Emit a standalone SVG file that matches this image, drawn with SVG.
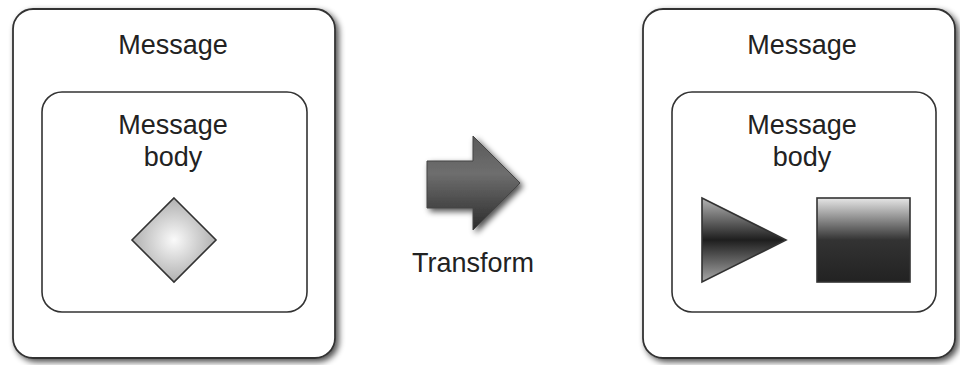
<svg xmlns="http://www.w3.org/2000/svg" width="960" height="365" viewBox="0 0 960 365">
<style>
.outer{fill:#fff;stroke:#333;stroke-width:1.8}
.inner{fill:#fff;stroke:#333;stroke-width:1.6}
.lbl{font-family:"Liberation Sans",Arial,sans-serif;font-size:27px;fill:#222;text-anchor:middle}
.shape{stroke:#333;stroke-width:1.6}
</style>
<defs>
<filter id="shadow" x="-10%" y="-10%" width="125%" height="125%">
<feGaussianBlur in="SourceAlpha" stdDeviation="3"/>
<feOffset dx="3" dy="3" result="b"/>
<feComponentTransfer><feFuncA type="linear" slope="0.7"/></feComponentTransfer>
<feMerge><feMergeNode/><feMergeNode in="SourceGraphic"/></feMerge>
</filter>
<radialGradient id="gDiamond" cx="0.5" cy="0.5" r="0.5">
<stop offset="0" stop-color="#fafafa"/>
<stop offset="1" stop-color="#b0b0b0"/>
</radialGradient>
<linearGradient id="gArrow" x1="0" y1="0" x2="0" y2="1">
<stop offset="0" stop-color="#5a5a5a"/>
<stop offset="0.4" stop-color="#6e6e6e"/>
<stop offset="1" stop-color="#2a2a2a"/>
</linearGradient>
<linearGradient id="gTri" x1="0" y1="0" x2="0" y2="1">
<stop offset="0" stop-color="#b5b5b5"/>
<stop offset="0.5" stop-color="#1e1e1e"/>
<stop offset="1" stop-color="#a8a8a8"/>
</linearGradient>
<linearGradient id="gSq" x1="0" y1="0" x2="0" y2="1">
<stop offset="0" stop-color="#e6e6e6"/>
<stop offset="0.5" stop-color="#333"/>
<stop offset="1" stop-color="#222"/>
</linearGradient>
</defs>

<g id="msg-before">
<rect class="outer" x="13" y="9" width="322" height="349" rx="20" filter="url(#shadow)"/>
<text class="lbl" x="173" y="54">Message</text>
</g>
<g id="body-before">
<rect class="inner" x="42" y="92" width="265" height="220" rx="20"/>
<text class="lbl" x="173" y="134">Message</text>
<text class="lbl" x="173" y="166">body</text>
</g>
<g id="diamond">
<polygon class="shape" points="174,198 216,240 174,282 132,240" fill="url(#gDiamond)"/>
</g>

<g id="transform">
<polygon points="427,161 473,161 473,136 520,183 473,230 473,208 427,208" fill="url(#gArrow)" stroke="#444" stroke-width="1" filter="url(#shadow)"/>
<text class="lbl" x="473" y="272">Transform</text>
</g>

<g id="msg-after">
<rect class="outer" x="643" y="9" width="312" height="349" rx="20" filter="url(#shadow)"/>
<text class="lbl" x="802" y="54">Message</text>
</g>
<g id="body-after">
<rect class="inner" x="672" y="92" width="264" height="220" rx="20"/>
<text class="lbl" x="802" y="134">Message</text>
<text class="lbl" x="802" y="166">body</text>
</g>
<g id="triangle">
<polygon class="shape" points="702,198 786,240 702,282" fill="url(#gTri)"/>
</g>
<g id="square">
<rect class="shape" x="817" y="198" width="93" height="84" fill="url(#gSq)"/>
</g>

<g id="connectors"></g>
</svg>
